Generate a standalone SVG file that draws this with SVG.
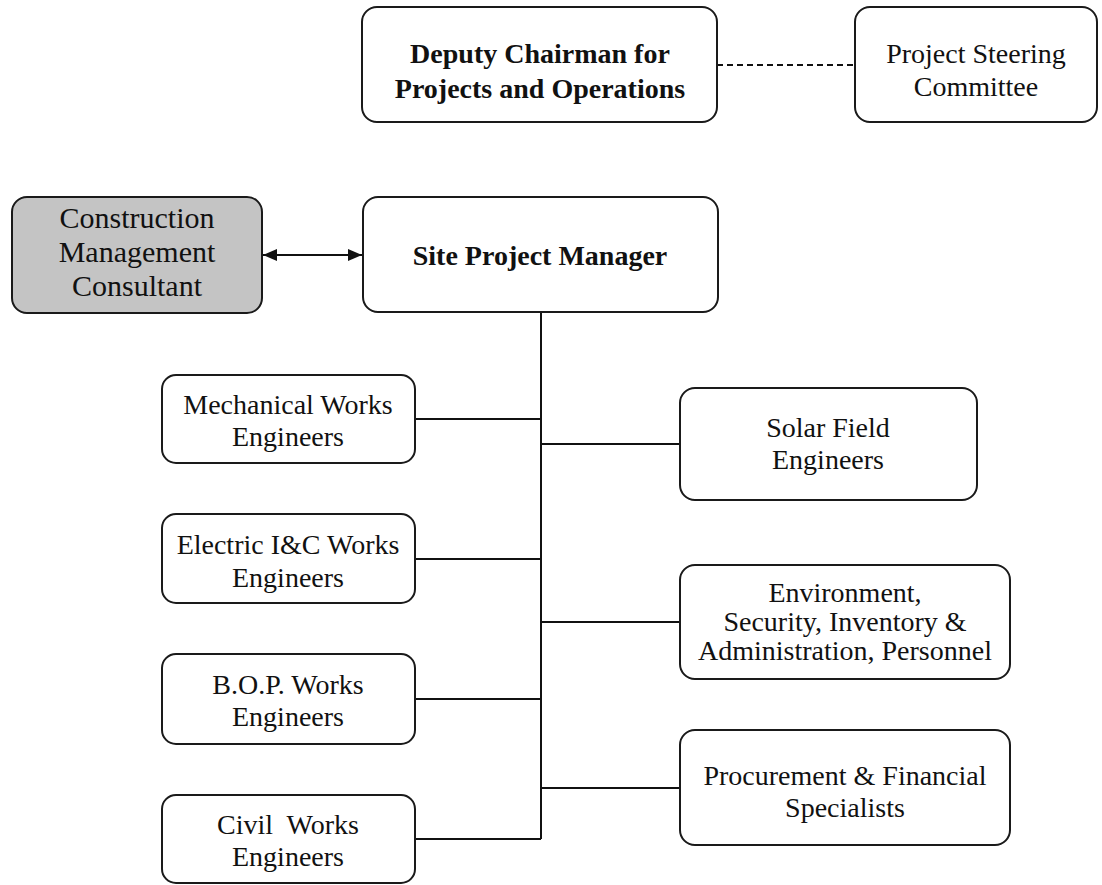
<svg xmlns="http://www.w3.org/2000/svg" width="1102" height="885" viewBox="0 0 1102 885">
<style>
.box{fill:#ffffff;stroke:#1a1a1a;stroke-width:2}
.grey{fill:#c4c4c4;stroke:#1a1a1a;stroke-width:2}
.t{font-family:"Liberation Serif","Times New Roman",serif;font-size:28px;fill:#111;text-anchor:middle}
.b{font-weight:bold}
.ln{stroke:#111;stroke-width:2;fill:none}
</style>
<defs>
<marker id="ah" viewBox="0 0 14 12" refX="14" refY="6" markerWidth="14" markerHeight="12" markerUnits="userSpaceOnUse" orient="auto-start-reverse">
<path d="M0,0 L14,6 L0,12 Z" fill="#111"/>
</marker>
</defs>
<rect width="1102" height="885" fill="#ffffff"/>
<g id="connectors">
<line class="ln" x1="717" y1="65" x2="855" y2="65" stroke-dasharray="6,4"/>
<line class="ln" x1="263" y1="255" x2="362" y2="255" marker-start="url(#ah)" marker-end="url(#ah)"/>
<line class="ln" x1="541" y1="312" x2="541" y2="839"/>
<line class="ln" x1="415" y1="419" x2="541" y2="419"/>
<line class="ln" x1="415" y1="559" x2="541" y2="559"/>
<line class="ln" x1="415" y1="699" x2="541" y2="699"/>
<line class="ln" x1="415" y1="839" x2="541" y2="839"/>
<line class="ln" x1="541" y1="444" x2="680" y2="444"/>
<line class="ln" x1="541" y1="622" x2="680" y2="622"/>
<line class="ln" x1="541" y1="788" x2="680" y2="788"/>
</g>
<g id="deputy">
<rect class="box" x="362" y="7" width="355" height="115" rx="15"/>
<text class="t b" x="540" y="63">Deputy Chairman for</text>
<text class="t b" x="540" y="98">Projects and Operations</text>
</g>
<g id="steering">
<rect class="box" x="855" y="7" width="242" height="115" rx="15"/>
<text class="t" x="976" y="63">Project Steering</text>
<text class="t" x="976" y="96">Committee</text>
</g>
<g id="consultant">
<rect class="grey" x="12" y="197" width="250" height="116" rx="15"/>
<text class="t" x="137" y="228" style="font-size:30px">Construction</text>
<text class="t" x="137" y="262" style="font-size:30px">Management</text>
<text class="t" x="137" y="296" style="font-size:30px">Consultant</text>
</g>
<g id="site-pm">
<rect class="box" x="363" y="197" width="355" height="115" rx="15"/>
<text class="t b" x="540" y="265">Site Project Manager</text>
</g>
<g id="mechanical">
<rect class="box" x="162" y="375" width="253" height="88" rx="14"/>
<text class="t" x="288" y="414">Mechanical Works</text>
<text class="t" x="288" y="446">Engineers</text>
</g>
<g id="electric">
<rect class="box" x="162" y="514" width="253" height="89" rx="14"/>
<text class="t" x="288" y="554">Electric I&amp;C Works</text>
<text class="t" x="288" y="587">Engineers</text>
</g>
<g id="bop">
<rect class="box" x="162" y="654" width="253" height="90" rx="14"/>
<text class="t" x="288" y="694">B.O.P. Works</text>
<text class="t" x="288" y="726">Engineers</text>
</g>
<g id="civil">
<rect class="box" x="162" y="795" width="253" height="88" rx="14"/>
<text class="t" x="288" y="834" xml:space="preserve">Civil  Works</text>
<text class="t" x="288" y="866">Engineers</text>
</g>
<g id="solar">
<rect class="box" x="680" y="388" width="297" height="112" rx="15"/>
<text class="t" x="828" y="437">Solar Field</text>
<text class="t" x="828" y="469">Engineers</text>
</g>
<g id="environment">
<rect class="box" x="680" y="565" width="330" height="114" rx="15"/>
<text class="t" x="845" y="602">Environment,</text>
<text class="t" x="845" y="631">Security, Inventory &amp;</text>
<text class="t" x="845" y="660">Administration, Personnel</text>
</g>
<g id="procurement">
<rect class="box" x="680" y="730" width="330" height="115" rx="15"/>
<text class="t" x="845" y="785">Procurement &amp; Financial</text>
<text class="t" x="845" y="817">Specialists</text>
</g>
</svg>
